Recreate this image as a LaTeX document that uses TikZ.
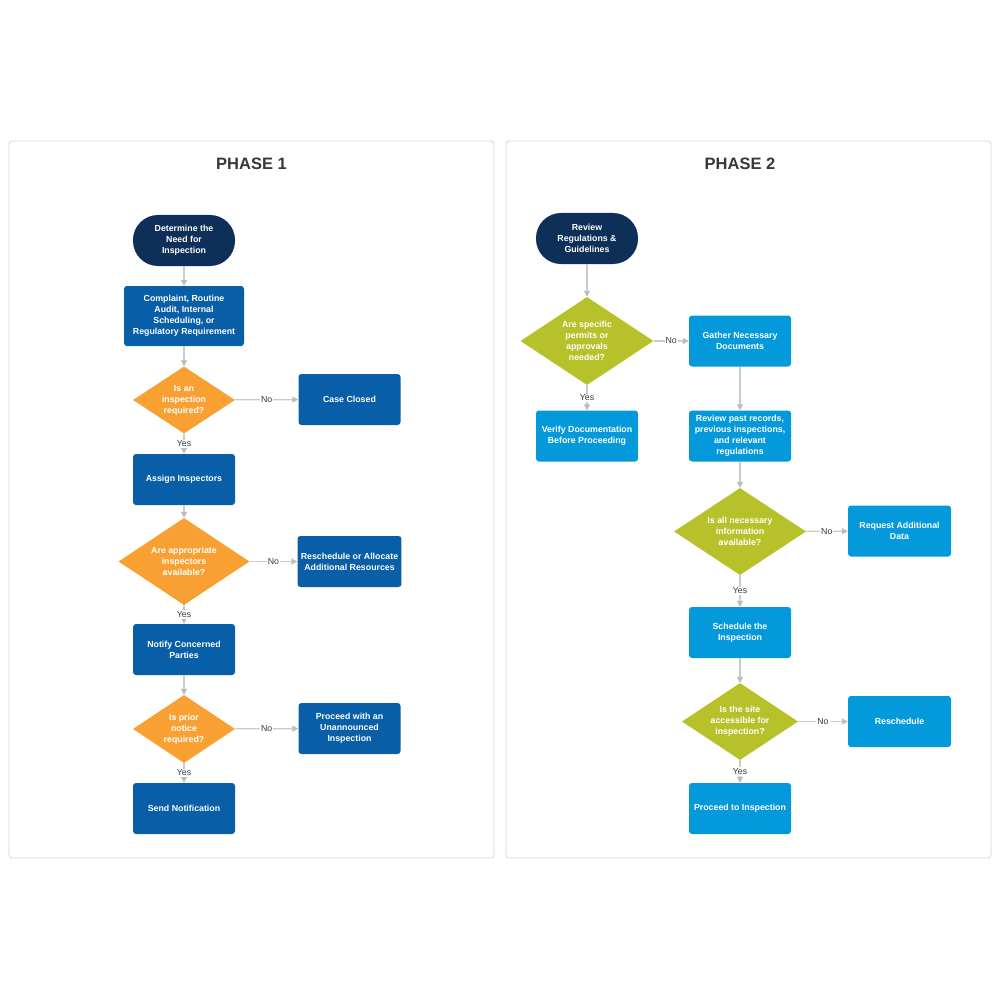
\documentclass[tikz,border=0pt]{standalone}
\usepackage{fontspec}
\setmainfont{Liberation Sans}
\usepackage{tikz}
\usetikzlibrary{shapes, arrows.meta, positioning}

\definecolor{navy}{HTML}{0E2F57}
\definecolor{blueA}{HTML}{085EA7}
\definecolor{blueB}{HTML}{0499DA}
\definecolor{orangeQ}{HTML}{F9A032}
\definecolor{oliveQ}{HTML}{B7C22A}
\definecolor{linegray}{HTML}{CBCBCB}
\definecolor{tipgray}{HTML}{BDBDBD}
\definecolor{panelgray}{HTML}{D6D6D6}
\definecolor{titlegray}{HTML}{383838}
\definecolor{lblgray}{HTML}{3C3C3C}

\tikzstyle{flow}       = [draw=linegray, line width=1.2pt, -{Triangle[length=6pt, width=6pt, color=tipgray]}]
\tikzstyle{term}       = [rectangle, rounded corners=25pt, fill=navy, text=white, align=center, minimum width=102pt, minimum height=51pt, font=\fontsize{8.8}{11}\selectfont\bfseries]
\tikzstyle{boxA}       = [rectangle, rounded corners=3pt, fill=blueA, text=white, align=center, minimum width=102pt, minimum height=51pt, font=\fontsize{8.8}{11}\selectfont\bfseries]
\tikzstyle{boxB}       = [boxA, fill=blueB]
\tikzstyle{decA}       = [diamond, fill=orangeQ, inner sep=0pt]
\tikzstyle{decB}       = [diamond, fill=oliveQ, inner sep=0pt]
\tikzstyle{dtext}      = [text=white, align=center, font=\fontsize{8.8}{11}\selectfont\bfseries]
\tikzstyle{yn}         = [fill=white, text=lblgray, inner sep=1pt, font=\fontsize{8.8}{11}\selectfont]
\tikzstyle{panel}      = [draw=panelgray, line width=0.8pt, rounded corners=3pt, minimum width=485pt, minimum height=717pt]
\tikzstyle{phasetitle} = [text=titlegray, font=\fontsize{16.5}{20}\selectfont\bfseries]

\begin{document}
\begin{tikzpicture}[x=1pt, y=-1pt]

\path [use as bounding box, fill=white] (0, 0) rectangle (1000, 1000);

% panels
\node [panel]      at ( 251.5, 499.5 ) (p1)  {};
\node [panel]      at ( 748.5, 499.5 ) (p2)  {};
\node [phasetitle] at ( 251.5, 164   ) (t1)  {PHASE 1};
\node [phasetitle] at ( 740  , 164   ) (t2)  {PHASE 2};

% nodes, phase 1
\node [term]                                   at ( 184  , 240.5 ) (need)   {Determine the\\Need for\\Inspection};
\node [boxA, minimum width=120pt,
             minimum height=60pt]              at ( 184  , 316   ) (source) {Complaint, Routine\\Audit, Internal\\Scheduling, or\\Regulatory Requirement};
\node [decA, minimum width=102pt, minimum height=67pt,
       label={[dtext]center:{Is an\\inspection\\required?}}]             at ( 184  , 400   ) (isreq)  {};
\node [boxA]                                   at ( 349.5, 399.5 ) (closed) {Case Closed};
\node [boxA]                                   at ( 184  , 479.5 ) (assign) {Assign Inspectors};
\node [decA, minimum width=131pt, minimum height=87pt,
       label={[dtext]center:{Are appropriate\\inspectors\\available?}}]  at ( 184  , 561.5 ) (avail)  {};
\node [boxA]                                   at ( 349.5, 561.5 ) (resch1) {Reschedule or Allocate\\Additional Resources};
\node [boxA]                                   at ( 184  , 649.5 ) (notify) {Notify Concerned\\Parties};
\node [decA, minimum width=102pt, minimum height=68pt,
       label={[dtext]center:{Is prior\\notice\\required?}}]              at ( 184  , 729   ) (prior)  {};
\node [boxA]                                   at ( 349.5, 728.5 ) (unann)  {Proceed with an\\Unannounced\\Inspection};
\node [boxA]                                   at ( 184  , 808.5 ) (send)   {Send Notification};

% nodes, phase 2
\node [term]                                   at ( 587  , 238.5 ) (regs)   {Review\\Regulations \&\\Guidelines};
\node [decB, minimum width=133pt, minimum height=88pt,
       label={[dtext]center:{Are specific\\permits or\\approvals\\needed?}}] at ( 587  , 341   ) (permit) {};
\node [boxB]                                   at ( 740  , 341   ) (gather) {Gather Necessary\\Documents};
\node [boxB]                                   at ( 587  , 436   ) (verify) {Verify Documentation\\Before Proceeding};
\node [boxB]                                   at ( 740  , 436   ) (past)   {Review past records,\\previous inspections,\\and relevant\\regulations};
\node [decB, minimum width=132pt, minimum height=87pt,
       label={[dtext]center:{Is all necessary\\information\\available?}}] at ( 740  , 531.5 ) (info)   {};
\node [boxB, minimum width=103pt]              at ( 899.5, 531   ) (more)   {Request Additional\\Data};
\node [boxB]                                   at ( 740  , 632.5 ) (sched)  {Schedule the\\Inspection};
\node [decB, minimum width=116pt, minimum height=77pt,
       label={[dtext]center:{Is the site\\accessible for\\inspection?}}] at ( 740  , 721.5 ) (site)   {};
\node [boxB, minimum width=103pt]              at ( 899.5, 721.5 ) (resch2) {Reschedule};
\node [boxB]                                   at ( 740  , 808.5 ) (go)     {Proceed to Inspection};

%  edges
\path [flow]
  (need)   edge                      (source)
  (source) edge                      (isreq)
  (isreq)  edge node [yn] {No}       (closed)
  (isreq)  edge node [yn] {Yes}      (assign)
  (assign) edge                      (avail)
  (avail)  edge node [yn] {No}       (resch1)
  (avail)  edge node [yn] {Yes}      (notify)
  (notify) edge                      (prior)
  (prior)  edge node [yn] {No}       (unann)
  (prior)  edge node [yn] {Yes}      (send)

  (regs)   edge                      (permit)
  (permit) edge node [yn] {No}       (gather)
  (permit) edge node [yn] {Yes}      (verify)
  (gather) edge                      (past)
  (past)   edge                      (info)
  (info)   edge node [yn] {No}       (more)
  (info)   edge node [yn] {Yes}      (sched)
  (sched)  edge                      (site)
  (site)   edge node [yn] {No}       (resch2)
  (site)   edge node [yn] {Yes}      (go);

\end{tikzpicture}
\end{document}
